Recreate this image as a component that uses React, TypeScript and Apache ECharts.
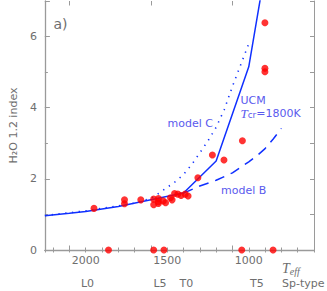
import React, { useEffect, useRef } from 'react';
import * as echarts from 'echarts';

// Observed objects: effective temperature (K) and H2O 1.2 index
const obsTeff = [1860, 1583, 1520, 1043, 851, 1949, 1762, 1762, 1662, 1583, 1583, 1554, 1554, 1554, 1524, 1510, 1480, 1470, 1455, 1435, 1415, 1390, 1372, 1312, 1223, 1152, 1039, 901, 901, 901];
const obsIndex = [0, 0, 0, 0, 0, 1.17, 1.41, 1.30, 1.41, 1.43, 1.27, 1.45, 1.36, 1.31, 1.38, 1.33, 1.47, 1.41, 1.59, 1.57, 1.53, 1.57, 1.52, 2.03, 2.67, 2.53, 3.07, 6.39, 5.11, 5.01];

// UCM model (Tcr = 1800 K)
const ucmTeff = [2250, 2100, 2000, 1800, 1600, 1400, 1200, 1000, 900];
const ucmIndex = [0.96, 1.03, 1.08, 1.22, 1.41, 1.6, 2.5, 5.15, 7.85];

// model C (dotted)
const modelCTeff = [2250, 2000, 1800, 1700, 1600, 1550, 1500, 1450, 1400, 1350, 1300, 1250, 1200, 1150, 1100, 1050, 1000];
const modelCIndex = [0.97, 1.1, 1.24, 1.32, 1.45, 1.6, 1.76, 1.92, 2.12, 2.4, 2.73, 3.07, 3.45, 3.95, 4.6, 5.2, 5.8];

// model B (dashed)
const modelBTeff = [1400, 1300, 1200, 1100, 1000, 950, 900, 850, 800];
const modelBIndex = [1.6, 1.8, 1.96, 2.17, 2.48, 2.65, 2.85, 3.12, 3.42];

// Axis settings
const xMin = 600;
const xMax = 2250;
const yMin = 0;
const yMax = 7;

// Spectral-type labels along the temperature axis
const spTypes = ['L0', 'L5', 'T0', 'T5'];
const spTeff = [1989, 1544, 1383, 950];

// Curve annotations
const annotTexts = ['model C', 'UCM', 'model B'];
const annotTeff = [1498, 1051, 1170];
const annotIndex = [3.56, 4.19, 1.66];

const FONT = 'DejaVu Sans';
const GRAY = '#6e6e6e';
const AXIS = '#9a9a9a';
const BLUE = '#1030ff';
const BLUE_TEXT = '#5a5aee';

const zip = (a: number[], b: number[]) => a.map((v, i) => [v, b[i]]);

export default function App() {
  const ref = useRef<HTMLDivElement>(null);

  useEffect(() => {
    document.body.style.margin = '0';
    if (!ref.current) return;
    const chart = echarts.init(ref.current, null, { renderer: 'svg' });

    const xBase = {
      type: 'value',
      min: xMin,
      max: xMax,
      inverse: true,
      splitLine: { show: false },
    };
    const yBase = {
      type: 'value',
      min: yMin,
      max: yMax,
      splitLine: { show: false },
    };

    chart.setOption({
      animation: false,
      grid: { left: 36, right: 13, top: 1, bottom: 41 },
      xAxis: [
        {
          ...xBase,
          position: 'bottom',
          interval: 100,
          axisLine: { show: true, lineStyle: { color: AXIS, width: 1.3 } },
          axisTick: { show: true, inside: true, length: 2.5, lineStyle: { color: AXIS } },
          axisLabel: {
            formatter: (v: number) => (v % 500 === 0 ? String(v) : ''),
            color: GRAY,
            fontSize: 11,
            fontFamily: FONT,
            margin: 5,
          },
        },
        {
          ...xBase,
          position: 'bottom',
          interval: 500,
          axisLine: { show: false },
          axisTick: { show: true, inside: true, length: 4.5, lineStyle: { color: AXIS } },
          axisLabel: { show: false },
        },
        {
          ...xBase,
          position: 'top',
          interval: 100,
          axisLine: { show: true, lineStyle: { color: AXIS, width: 1 } },
          axisTick: { show: true, inside: true, length: 2.5, lineStyle: { color: AXIS } },
          axisLabel: { show: false },
        },
        {
          ...xBase,
          position: 'top',
          interval: 500,
          axisLine: { show: false },
          axisTick: { show: true, inside: true, length: 4.5, lineStyle: { color: AXIS } },
          axisLabel: { show: false },
        },
      ],
      yAxis: [
        {
          ...yBase,
          position: 'left',
          interval: 1,
          name: 'H₂O 1.2 index',
          nameLocation: 'middle',
          nameRotate: 90,
          nameGap: 21,
          nameTextStyle: { color: GRAY, fontSize: 11, fontFamily: FONT },
          axisLine: { show: true, lineStyle: { color: AXIS, width: 1.3 } },
          axisTick: { show: true, inside: true, length: 3, lineStyle: { color: AXIS } },
          axisLabel: {
            formatter: (v: number) => (v % 2 === 0 ? String(v) : ''),
            color: GRAY,
            fontSize: 11,
            fontFamily: FONT,
            margin: 8,
          },
        },
        {
          ...yBase,
          position: 'left',
          interval: 2,
          axisLine: { show: false },
          axisTick: { show: true, inside: true, length: 5, lineStyle: { color: AXIS } },
          axisLabel: { show: false },
        },
        {
          ...yBase,
          position: 'right',
          interval: 1,
          axisLine: { show: true, lineStyle: { color: AXIS, width: 1 } },
          axisTick: { show: true, inside: true, length: 4, lineStyle: { color: AXIS } },
          axisLabel: { show: false },
        },
      ],
      series: [
        {
          type: 'line',
          name: 'UCM',
          data: zip(ucmTeff, ucmIndex),
          showSymbol: false,
          lineStyle: { color: BLUE, width: 1.5 },
          z: 2,
        },
        {
          type: 'line',
          name: 'model C',
          data: zip(modelCTeff, modelCIndex),
          showSymbol: false,
          lineStyle: { color: BLUE, width: 1.6, type: [1.3, 5.5] },
          z: 2,
        },
        {
          type: 'line',
          name: 'model B',
          data: zip(modelBTeff, modelBIndex),
          showSymbol: false,
          lineStyle: { color: BLUE, width: 1.5, type: [10, 7] },
          z: 2,
        },
        {
          type: 'scatter',
          name: 'observed',
          data: zip(obsTeff, obsIndex),
          symbolSize: 7,
          itemStyle: { color: '#ff0000' },
          clip: false,
          z: 5,
        },
      ],
    });

    const px = (t: number, v: number) =>
      chart.convertToPixel({ xAxisIndex: 0, yAxisIndex: 0 }, [t, v]) as number[];

    const bottomY = px(xMin, yMin)[1];
    const graphics: any[] = [];

    spTypes.forEach((s, i) => {
      const [x] = px(spTeff[i], 0);
      graphics.push({
        type: 'text',
        x,
        y: bottomY + 33,
        style: { text: s, fontSize: 11, fontFamily: FONT, fill: GRAY, align: 'center', verticalAlign: 'middle' },
      });
    });

    const [spX] = px(796, 0);
    graphics.push({
      type: 'text',
      x: spX,
      y: bottomY + 33,
      style: { text: 'Sp-type', fontSize: 11, fontFamily: FONT, fill: GRAY, align: 'left', verticalAlign: 'middle' },
    });
    graphics.push({
      type: 'text',
      x: spX,
      y: bottomY + 18,
      style: {
        text: '{t|T}{s|eff}',
        align: 'left',
        verticalAlign: 'middle',
        rich: {
          t: { fontSize: 14, fontFamily: 'Liberation Serif', fontStyle: 'italic', fill: GRAY, lineHeight: 16, verticalAlign: 'middle' },
          s: { fontSize: 10, fontFamily: 'Liberation Serif', fontStyle: 'italic', fill: GRAY, lineHeight: 8, verticalAlign: 'bottom' },
        },
      },
    });

    annotTexts.forEach((s, i) => {
      const [x, y] = px(annotTeff[i], annotIndex[i]);
      graphics.push({
        type: 'text',
        x,
        y,
        style: { text: s, fontSize: 11, lineHeight: 11, fontFamily: FONT, fill: BLUE_TEXT, align: 'left', verticalAlign: 'middle' },
        z: 10,
      });
    });

    const [tcX, tcY] = px(1051, 3.83);
    graphics.push({
      type: 'text',
      x: tcX,
      y: tcY,
      z: 10,
      style: {
        text: '{t|T}{s|cr}{n|=1800K}',
        align: 'left',
        verticalAlign: 'middle',
        rich: {
          t: { fontSize: 13, fontFamily: 'Liberation Serif', fontStyle: 'italic', fill: BLUE_TEXT, lineHeight: 12, verticalAlign: 'middle' },
          s: { fontSize: 9, fontFamily: FONT, fill: BLUE_TEXT, lineHeight: 6, verticalAlign: 'bottom' },
          n: { fontSize: 11, fontFamily: FONT, fill: BLUE_TEXT, lineHeight: 12, verticalAlign: 'middle' },
        },
      },
    });

    const [aX, aY] = px(2197, 6.35);
    graphics.push({
      type: 'text',
      x: aX,
      y: aY,
      style: { text: 'a)', fontSize: 14, fontFamily: FONT, fill: GRAY, align: 'left', verticalAlign: 'middle' },
    });

    chart.setOption({ graphic: graphics });

    return () => chart.dispose();
  }, []);

  return <div ref={ref} style={{ width: 327, height: 291 }} />;
}
